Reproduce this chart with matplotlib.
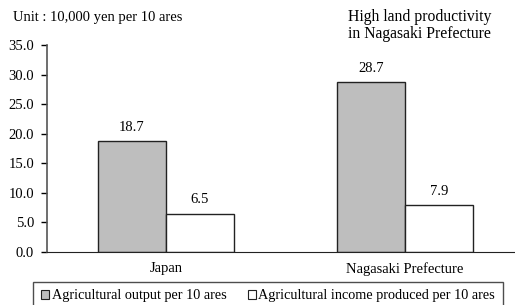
import numpy as np
import matplotlib.pyplot as plt
from matplotlib.patches import Patch

plt.rcParams['font.family'] = ['Liberation Serif', 'DejaVu Serif']

# Data
categories = ["Japan", "Nagasaki Prefecture"]
output_vals = [18.7, 28.7]
income_vals = [6.5, 7.9]
series_names = ["Agricultural output per 10 ares",
                "Agricultural income produced per 10 ares"]
yticks = [0, 5, 10, 15, 20, 25, 30, 35]

W, H = 515, 305
fig = plt.figure(figsize=(W / 100, H / 100), dpi=100)
ax = fig.add_axes([46.7 / W, 53 / H, 1 - 46.7 / W, 207 / H])

x = np.arange(len(categories))
w = 0.285
b1 = ax.bar(x - w / 2, output_vals, w, color='#bebebe', edgecolor='#222222', linewidth=1)
b2 = ax.bar(x + w / 2, income_vals, w, color='white', edgecolor='#222222', linewidth=1)

for bars, vals in [(b1, output_vals), (b2, income_vals)]:
    for rect, v in zip(bars, vals):
        ax.text(rect.get_x() + rect.get_width() / 2, v + 1.3, f"{v:.1f}",
                ha='center', va='bottom', fontsize=10.5)

ax.set_xlim(-0.5, 1.462)
ax.set_ylim(0, 35)
ax.set_yticks(yticks)
ax.set_yticklabels([f"{t:.1f}" for t in yticks], fontsize=10.5)
ax.set_xticks(x)
ax.set_xticklabels(categories, fontsize=10.5)
ax.tick_params(axis='x', length=0, pad=7)
ax.tick_params(axis='y', length=4, width=1, direction='out', pad=5)
ax.spines['top'].set_visible(False)
ax.spines['right'].set_visible(False)
ax.spines['left'].set_color('#555555')
ax.spines['left'].set_linewidth(1.2)
ax.spines['bottom'].set_color('#222222')

fig.text(13 / W, 1 - 17 / H, "Unit : 10,000 yen per 10 ares", fontsize=10.5, va='center')
fig.text(348 / W, 1 - 25.5 / H, "High land productivity\nin Nagasaki Prefecture",
         fontsize=11.3, va='center', linespacing=1.1)

handles = [Patch(facecolor='#bebebe', edgecolor='#222222', linewidth=0.8),
           Patch(facecolor='white', edgecolor='#222222', linewidth=0.8)]
leg = fig.legend(handles, series_names, loc='center', ncol=2,
                 bbox_to_anchor=(268 / W, 1 - 296 / H),
                 prop={'family': 'Liberation Serif', 'size': 10.3},
                 frameon=True, fancybox=False, edgecolor='#222222',
                 handlelength=0.6, handleheight=0.6, handletextpad=0.15,
                 columnspacing=1.5, borderpad=0.55)
leg.get_frame().set_linewidth(1)

fig.savefig("out.png", dpi=100)
